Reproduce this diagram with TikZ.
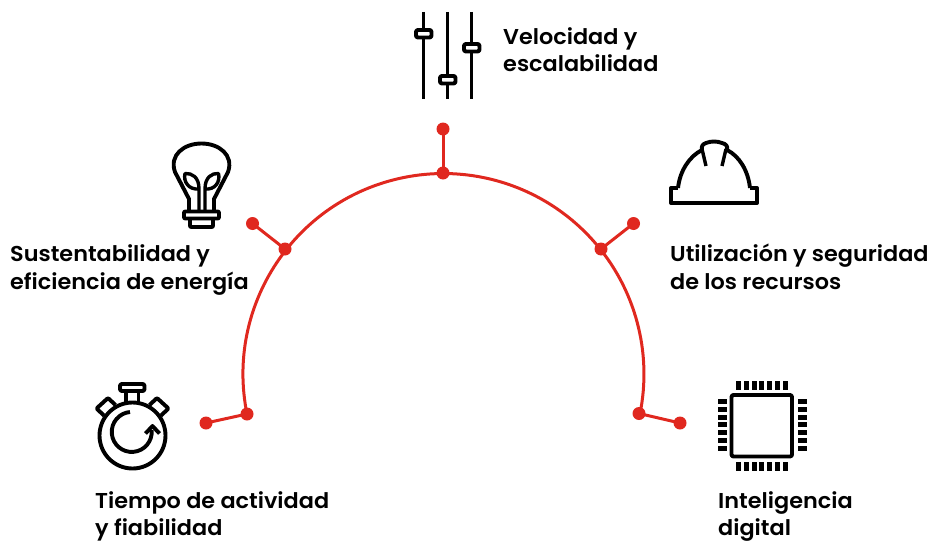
\documentclass[tikz,border=0pt]{standalone}
\usepackage{fontspec}
\setmainfont{Poppins}[BoldFont={Poppins SemiBold},BoldFeatures={FakeStretch=1.04}]
\definecolor{abbred}{HTML}{E0281F}
\newcommand\twol[2]{\rule{0pt}{22pt}#1\\#2\rule[-8pt]{0pt}{8pt}}
\tikzset{
  lbl/.style={anchor=west,inner sep=0pt,align=left,font=\fontsize{21.5}{27.3}\selectfont\bfseries,text=black},
  dot/.style={circle,fill=abbred,draw=none,minimum size=13pt,inner sep=0pt},
  link/.style={draw=abbred,line width=3pt},
  icon/.style={draw=black,line width=3.9pt,line join=round},
  thin icon/.style={draw=black,line width=3.4pt,line join=round},
  pin/.style={fill=black,draw=none}
}
\begin{document}
\begin{tikzpicture}[x=1pt,y=-1pt]
\useasboundingbox (0,0) rectangle (934,543);
% arc
\path[link] (247,414) arc[start angle=168.5,end angle=371.5,radius=200.5];
% dots
\node[dot] (a1) at (247,414) {};
\node[dot] (a2) at (285,249) {};
\node[dot] (a3) at (443,173) {};
\node[dot] (a4) at (601,249) {};
\node[dot] (a5) at (639,413.5) {};
\node[dot] (b1) at (206,423) {};
\node[dot] (b2) at (252.5,223.5) {};
\node[dot] (b3) at (443,129) {};
\node[dot] (b4) at (633.5,223.5) {};
\node[dot] (b5) at (680,423) {};
\foreach \i in {1,...,5} \draw[link] (a\i.center) -- (b\i.center);
% labels
\node[lbl] (t3) at (503,51) {\twol{Velocidad y}{escalabilidad}};
\node[lbl] (t2) at (10,268.5) {\twol{Sustentabilidad y}{eficiencia de energía}};
\node[lbl] (t4) at (670,268.5) {\twol{Utilización y seguridad}{de los recursos}};
\node[lbl] (t1) at (95,515) {\twol{Tiempo de actividad}{y fiabilidad}};
\node[lbl] (t5) at (718,515) {\twol{Inteligencia}{digital}};
% sliders
\draw[icon] (423.5,12) -- (423.5,99) (447.5,12) -- (447.5,99) (471.5,12) -- (471.5,99);
\draw[icon,fill=white,rounded corners=1.5pt] (416,30) rectangle (431.5,37.5);
\draw[icon,fill=white,rounded corners=1.5pt] (440,76) rectangle (455.5,83.5);
\draw[icon,fill=white,rounded corners=1.5pt] (464,44) rectangle (479.5,51.5);
% bulb
\draw[icon] (189,210) -- (189,199) -- (175,172) .. controls (169,155) and (184,143.5) .. (201.5,143.5) .. controls (219,143.5) and (234,155) .. (228,172) -- (214,199) -- (214,210);
\draw[icon,rounded corners=1pt] (184,211.5) rectangle (219,218.5);
\draw[icon,rounded corners=1pt] (190,218.5) -- (190,227) -- (213,227) -- (213,218.5);
\draw[thin icon] (199,210) -- (199,189) .. controls (199,177) and (192,173) .. (185,173.5) .. controls (183,182) and (189,190) .. (199,189);
\draw[thin icon] (205,210) -- (205,189) .. controls (205,177) and (212,173) .. (218.5,173.5) .. controls (220.5,182) and (215,190) .. (205,189);
% hard hat
\draw[icon] (678,188) -- (671,188) -- (671,203) -- (757,203) -- (757,188) -- (750,188);
\draw[icon] (678,188) .. controls (680,170) and (690,156) .. (702,150) .. controls (701,146) and (703,144) .. (706,143) .. controls (711,141) and (717,141) .. (722,143) .. controls (726,144) and (728,146) .. (727,150) .. controls (739,156) and (748,170) .. (750,188);
\draw[thin icon] (702,149) -- (706,166) (726,149) -- (722,166);
% stopwatch
\draw[icon] (132.5,435.5) circle[radius=33];
\draw[icon,fill=white,rounded corners=1.5pt] (120,384) rectangle (144.5,391);
\draw[icon] (126,391) -- (126,403) (138.5,391) -- (138.5,403);
\draw[icon,rounded corners=1pt] (104,415.5) -- (96.5,408.5) -- (108,398) -- (115.5,405);
\draw[icon,rounded corners=1pt] (161,415.5) -- (168.5,408.5) -- (157,398) -- (149.5,405);
\draw[icon] (130,412) arc[start angle=265,end angle=-5,radius=20];
\draw[icon] (145.5,433.5) -- (152.5,426) -- (159.5,433.5);
% chip
\draw[icon,rounded corners=2pt] (731.5,395) rectangle (792,456.5);
\foreach \k in {0,...,6} {
  \fill[pin] (736+\k*7.75,381) rectangle ++(5,9);
  \fill[pin] (736+\k*7.75,462) rectangle ++(5,9);
  \fill[pin] (718,399+\k*7.75) rectangle ++(9,5);
  \fill[pin] (798,399+\k*7.75) rectangle ++(9,5);
}
\end{tikzpicture}
\end{document}
